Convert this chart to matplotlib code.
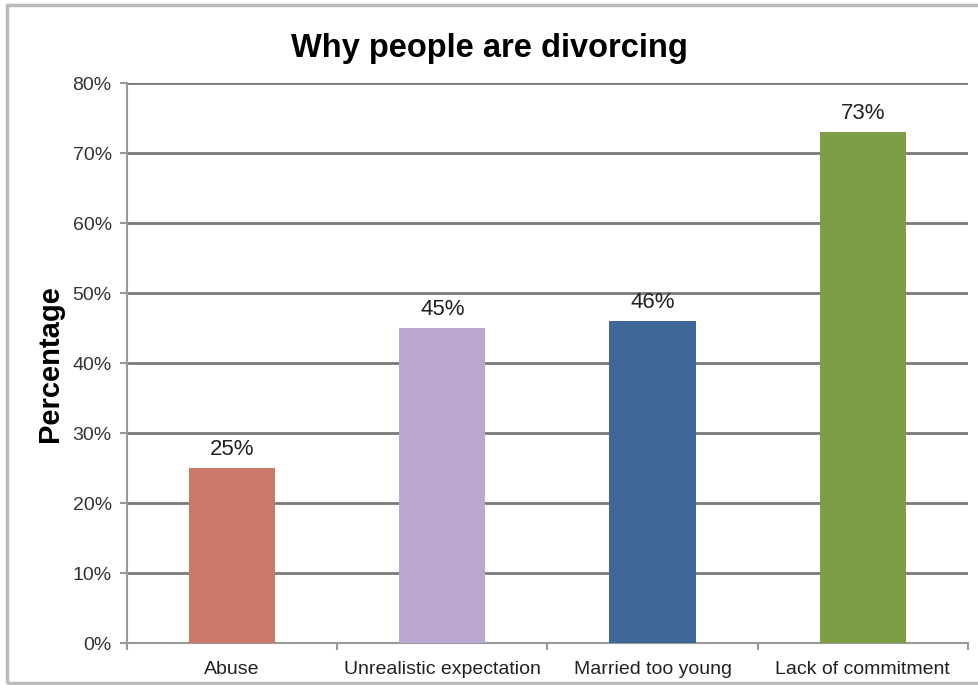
import matplotlib.pyplot as plt
from matplotlib.patches import Rectangle
from matplotlib.ticker import PercentFormatter

plt.rcParams['font.family'] = ['Liberation Sans', 'DejaVu Sans']

reasons = ['Abuse', 'Unrealistic expectation', 'Married too young', 'Lack of commitment']
percent = [25, 45, 46, 73]
colors = ['#C9786A', '#BBA8D0', '#3F6899', '#7E9E45']
yticks = [0, 10, 20, 30, 40, 50, 60, 70, 80]

fig = plt.figure(figsize=(9.79, 6.85), dpi=100)
ax = fig.add_axes([0.1297, 0.0613, 0.859, 0.8175])

x = range(len(reasons))
bars = ax.bar(x, percent, width=0.41, color=colors, zorder=3)
for b, v in zip(bars, percent):
    ax.text(b.get_x() + b.get_width() / 2, v + 1.1, '%d%%' % v,
            ha='center', va='bottom', fontsize=16, color='#222222')

ax.set_xlim(-0.5, len(reasons) - 0.5)
ax.set_ylim(0, 80)
ax.set_yticks(yticks)
ax.yaxis.set_major_formatter(PercentFormatter(decimals=0))
ax.grid(axis='y', color='#7a7a7a', linewidth=2, zorder=0)

ax.set_xticks(x)
ax.set_xticklabels(reasons, fontsize=14, color='#222222')
# category boundary ticks on the x axis
ax.set_xticks([i - 0.5 for i in range(len(reasons) + 1)], minor=True)
ax.tick_params(axis='x', which='major', length=0, pad=13)
ax.tick_params(axis='x', which='minor', length=5, color='#999999', width=1.5)
ax.tick_params(axis='y', length=5, color='#999999', width=1.5, labelsize=14,
               labelcolor='#333333', pad=6)

for s in ['top', 'right']:
    ax.spines[s].set_visible(False)
for s in ['left', 'bottom']:
    ax.spines[s].set_color('#999999')
    ax.spines[s].set_linewidth(1.5)

fig.text(50 / 979, 1 - 364 / 685, 'Percentage', rotation=90, ha='center', va='center',
         fontsize=21, fontweight='bold')
fig.text(0.5, 0.929, 'Why people are divorcing', ha='center', va='center',
         fontsize=23.5, fontweight='bold')

# light frame around the chart
fig.patches.append(Rectangle((0.0072, 0.003), 1.2, 0.99, transform=fig.transFigure,
                             fill=False, edgecolor='#bbbbbb', linewidth=2.5))

fig.savefig('out.png', dpi=100)
